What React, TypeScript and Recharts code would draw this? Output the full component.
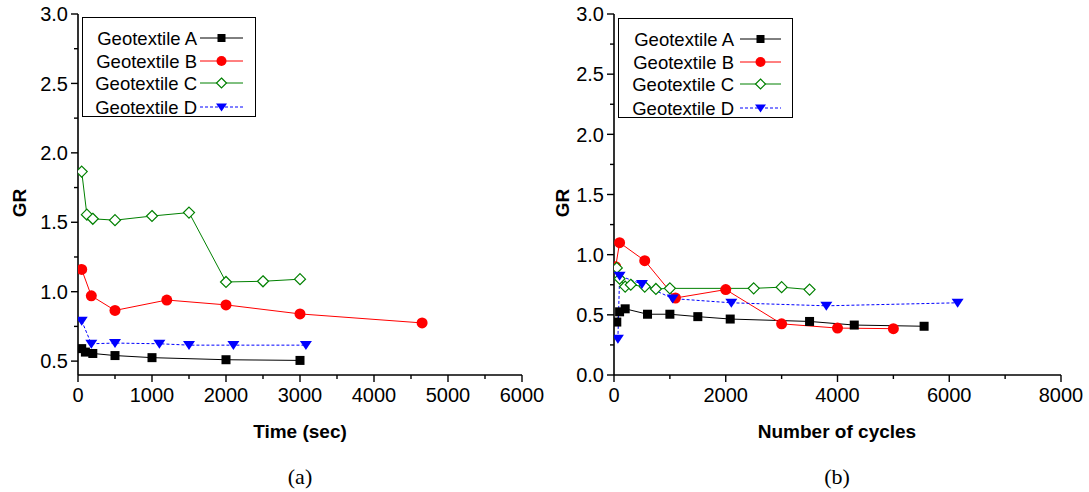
import { LineChart, Line, XAxis, YAxis } from "recharts";

// (a) GR vs time
const timeA = [50, 100, 200, 500, 1000, 2000, 3000];
const timeGrA = [0.59, 0.565, 0.555, 0.54, 0.525, 0.51, 0.505];
const timeB = [50, 180, 500, 1200, 2000, 3000, 4650];
const timeGrB = [1.16, 0.97, 0.865, 0.94, 0.905, 0.84, 0.775];
const timeC = [50, 120, 200, 500, 1000, 1500, 2000, 2500, 3000];
const timeGrC = [1.865, 1.555, 1.525, 1.515, 1.545, 1.57, 1.07, 1.075, 1.09];
const timeD = [50, 180, 500, 1100, 1500, 2100, 3080];
const timeGrD = [0.79, 0.625, 0.63, 0.625, 0.615, 0.615, 0.615];

// (b) GR vs number of cycles
const cycA = [50, 100, 200, 600, 1000, 1500, 2080, 3500, 4300, 5550];
const cycGrA = [0.44, 0.525, 0.55, 0.505, 0.505, 0.485, 0.465, 0.445, 0.415, 0.405];
const cycB = [30, 100, 550, 1100, 2000, 3000, 4000, 5000];
const cycGrB = [0.9, 1.1, 0.95, 0.64, 0.71, 0.425, 0.39, 0.385];
const cycC = [50, 100, 200, 300, 550, 750, 1000, 2500, 3000, 3500];
const cycGrC = [0.89, 0.8, 0.735, 0.75, 0.735, 0.715, 0.72, 0.72, 0.73, 0.71];
const cycD = [70, 100, 500, 1050, 2100, 3800, 6150];
const cycGrD = [0.3, 0.825, 0.755, 0.635, 0.6, 0.575, 0.6];

const seriesNames = ["Geotextile A", "Geotextile B", "Geotextile C", "Geotextile D"];

const timeTicksX = [0, 500, 1000, 1500, 2000, 2500, 3000, 3500, 4000, 4500, 5000, 5500, 6000];
const timeTicksY = [0.5, 0.75, 1, 1.25, 1.5, 1.75, 2, 2.25, 2.5, 2.75, 3];
const cycTicksX = [0, 1000, 2000, 3000, 4000, 5000, 6000, 7000, 8000];
const cycTicksY = [0, 0.25, 0.5, 0.75, 1, 1.25, 1.5, 1.75, 2, 2.25, 2.5, 2.75, 3];

const SANS = '"Liberation Sans", Arial, sans-serif';

type Pt = { x: number; y: number };
const zip = (xs: number[], ys: number[]): Pt[] => xs.map((x, i) => ({ x, y: ys[i] }));

const STYLES = [
  { color: "#000000", kind: "square", dash: undefined },
  { color: "#ff0000", kind: "circle", dash: undefined },
  { color: "#008000", kind: "diamond", dash: undefined },
  { color: "#0000ff", kind: "triangle", dash: "3 2" },
];

function Marker({ kind, cx, cy, color, s }: { kind: string; cx: number; cy: number; color: string; s: number }) {
  if (kind === "square") return <rect x={cx - s / 2} y={cy - s / 2} width={s} height={s} fill={color} />;
  if (kind === "circle") return <circle cx={cx} cy={cy} r={s / 2 + 1} fill={color} />;
  if (kind === "diamond") {
    const h = s / 2 + 1;
    return (
      <polygon
        points={`${cx},${cy - h} ${cx + h},${cy} ${cx},${cy + h} ${cx - h},${cy}`}
        fill="#fff"
        stroke={color}
        strokeWidth={1.2}
      />
    );
  }
  const w = s / 2 + 1.5;
  return (
    <polygon points={`${cx - w},${cy - s * 0.45} ${cx + w},${cy - s * 0.45} ${cx},${cy + s * 0.55}`} fill={color} />
  );
}

const isMult = (v: number, step: number) => Math.abs(v / step - Math.round(v / step)) < 1e-6;

const bottomTick = (major: number) => (props: any) => {
  const { x, y, payload } = props;
  const big = isMult(payload.value, major);
  return (
    <g>
      <line x1={x} x2={x} y1={y} y2={y + (big ? 7 : 4)} stroke="#000" strokeWidth={1.4} />
      {big && (
        <text x={x} y={y + 27} textAnchor="middle" fontSize={20} fill="#000" fontFamily={SANS}>
          {payload.value}
        </text>
      )}
    </g>
  );
};

const leftTick = (props: any) => {
  const { x, y, payload } = props;
  const big = isMult(payload.value, 0.5);
  return (
    <g>
      <line x1={x} x2={x - (big ? 7 : 4)} y1={y} y2={y} stroke="#000" strokeWidth={1.4} />
      {big && (
        <text x={x - 10} y={y} dy="0.36em" textAnchor="end" fontSize={20} fill="#000" fontFamily={SANS}>
          {payload.value.toFixed(1)}
        </text>
      )}
    </g>
  );
};

const topTick = (props: any) => (
  <line x1={props.x} x2={props.x} y1={props.y} y2={props.y - 2} stroke="#555" strokeWidth={1} />
);
const rightTick = (props: any) => (
  <line x1={props.x} x2={props.x + 2} y1={props.y} y2={props.y} stroke="#555" strokeWidth={1} />
);

function Panel({
  sets,
  xMax,
  yMin,
  xTicks,
  yTicks,
  xMajor,
  width,
  yAxisWidth,
  right,
}: {
  sets: Pt[][];
  xMax: number;
  yMin: number;
  xTicks: number[];
  yTicks: number[];
  xMajor: number;
  width: number;
  yAxisWidth: number;
  right: number;
}) {
  return (
    <LineChart width={width} height={420} margin={{ top: 14, right, bottom: 0, left: 0 }}>
      <XAxis
        xAxisId="b"
        type="number"
        dataKey="x"
        domain={[0, xMax]}
        ticks={xTicks}
        height={45}
        tickSize={0}
        tickMargin={0}
        tick={bottomTick(xMajor)}
        axisLine={{ stroke: "#000", strokeWidth: 1.6 }}
        allowDataOverflow
      />
      <XAxis
        xAxisId="t"
        orientation="top"
        type="number"
        domain={[0, xMax]}
        ticks={xTicks}
        height={0}
        tickSize={0}
        tickMargin={0}
        tick={topTick}
        axisLine={{ stroke: "#000", strokeWidth: 1.4 }}
      />
      <YAxis
        yAxisId="l"
        type="number"
        domain={[yMin, 3]}
        ticks={yTicks}
        width={yAxisWidth}
        tickSize={0}
        tickMargin={0}
        tick={leftTick}
        axisLine={{ stroke: "#000", strokeWidth: 1.6 }}
        allowDataOverflow
      />
      <YAxis
        yAxisId="r"
        orientation="right"
        type="number"
        domain={[yMin, 3]}
        ticks={yTicks}
        width={0}
        tickSize={0}
        tickMargin={0}
        tick={rightTick}
        axisLine={{ stroke: "#000", strokeWidth: 1.4 }}
      />
      {sets.map((pts, i) => {
        const st = STYLES[i];
        return (
          <Line
            key={seriesNames[i]}
            xAxisId="b"
            yAxisId="l"
            data={pts}
            dataKey="y"
            name={seriesNames[i]}
            type="linear"
            stroke={st.color}
            strokeWidth={1}
            strokeDasharray={st.dash}
            isAnimationActive={false}
            activeDot={false}
            dot={(p: any) => (
              <Marker key={`d${i}-${p.index}`} kind={st.kind} cx={p.cx} cy={p.cy} color={st.color} s={9} />
            )}
          />
        );
      })}
    </LineChart>
  );
}

function LegendBox({ left, top, width, textRight, lineX1, lineX2 }: any) {
  const rows = [21, 44, 66, 90];
  return (
    <svg
      style={{ position: "absolute", left, top, overflow: "visible" }}
      width={width}
      height={100}
    >
      <rect x={0.5} y={0.5} width={width - 1} height={99} fill="#fff" stroke="#000" strokeWidth={1} />
      {seriesNames.map((n, i) => {
        const st = STYLES[i];
        const mid = (lineX1 + lineX2) / 2;
        return (
          <g key={n}>
            <text x={textRight} y={rows[i]} dy="0.36em" textAnchor="end" fontSize={18.5} fontFamily={SANS} fill="#000">
              {n}
            </text>
            <line x1={lineX1} x2={lineX2} y1={rows[i]} y2={rows[i]} stroke={st.color} strokeWidth={1} strokeDasharray={st.dash} />
            <Marker kind={st.kind} cx={mid} cy={rows[i]} color={st.color} s={8} />
          </g>
        );
      })}
    </svg>
  );
}

const labelStyle: React.CSSProperties = {
  position: "absolute",
  fontFamily: SANS,
  fontWeight: "bold",
  fontSize: 19,
  whiteSpace: "nowrap",
  transform: "translate(-50%, -50%)",
  lineHeight: 1,
};

export default function App() {
  return (
    <div style={{ position: "absolute", left: 0, top: 0, width: 1089, height: 492, background: "#fff" }}>
      <div style={{ position: "absolute", left: 0, top: 0 }}>
        <Panel
          sets={[zip(timeA, timeGrA), zip(timeB, timeGrB), zip(timeC, timeGrC), zip(timeD, timeGrD)]}
          xMax={6000}
          yMin={0.4}
          xTicks={timeTicksX}
          yTicks={timeTicksY}
          xMajor={1000}
          width={560}
          yAxisWidth={78}
          right={38}
        />
      </div>
      <div style={{ position: "absolute", left: 540, top: 0 }}>
        <Panel
          sets={[zip(cycA, cycGrA), zip(cycB, cycGrB), zip(cycC, cycGrC), zip(cycD, cycGrD)]}
          xMax={8000}
          yMin={0}
          xTicks={cycTicksX}
          yTicks={cycTicksY}
          xMajor={2000}
          width={549}
          yAxisWidth={74}
          right={28}
        />
      </div>
      <LegendBox left={82} top={17} width={174} textRight={115} lineX1={118} lineX2={161} />
      <LegendBox left={618} top={18} width={175} textRight={116} lineX1={122} lineX2={163} />

      <div style={{ ...labelStyle, left: 19, top: 203, transform: "translate(-50%, -50%) rotate(-90deg)" }}>GR</div>
      <div style={{ ...labelStyle, left: 562, top: 203, transform: "translate(-50%, -50%) rotate(-90deg)" }}>GR</div>
      <div style={{ ...labelStyle, left: 300, top: 431 }}>Time (sec)</div>
      <div style={{ ...labelStyle, left: 837, top: 431 }}>Number of cycles</div>
      <div style={{ ...labelStyle, fontWeight: "normal", fontFamily: '"Liberation Serif", serif', fontSize: 22, left: 300, top: 477 }}>
        (a)
      </div>
      <div style={{ ...labelStyle, fontWeight: "normal", fontFamily: '"Liberation Serif", serif', fontSize: 22, left: 837, top: 477 }}>
        (b)
      </div>
    </div>
  );
}
